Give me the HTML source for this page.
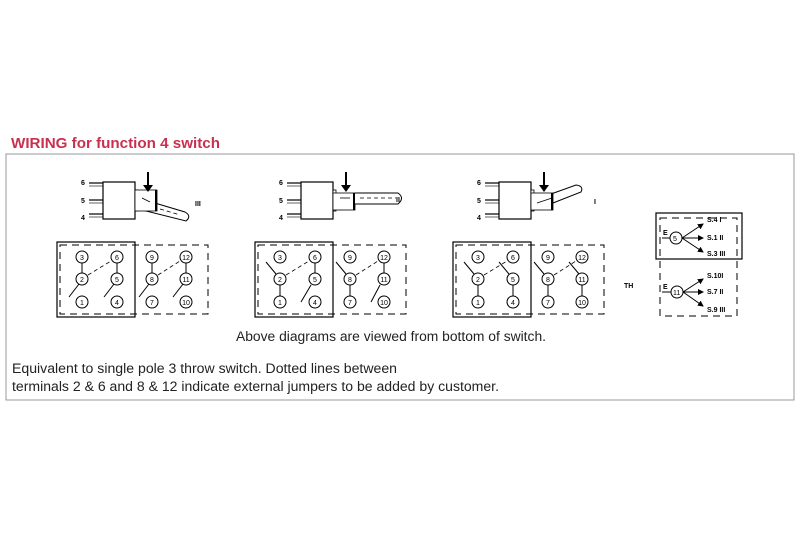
<!DOCTYPE html>
<html><head><meta charset="utf-8"><style>
body{margin:0;background:#fff;width:800px;height:534px;overflow:hidden}
svg{position:absolute;left:0;top:0}
text{font-family:"Liberation Sans",Arial,sans-serif}
</style></head><body>
<svg width="800" height="534" viewBox="0 0 800 534">
<defs>
<marker id="ar" markerWidth="6" markerHeight="6" refX="5" refY="3" orient="auto"><path d="M0,0 L6,3 L0,6 z" fill="#000"/></marker>
<g id="sw">
 <line x1="89" y1="183" x2="103" y2="183" stroke="#000" stroke-width="1.2"/>
 <line x1="89" y1="186" x2="103" y2="186" stroke="#000" stroke-width="0.6"/>
 <line x1="89" y1="200" x2="103" y2="200" stroke="#000" stroke-width="1.2"/>
 <line x1="89" y1="203" x2="103" y2="203" stroke="#000" stroke-width="0.6"/>
 <line x1="89" y1="214" x2="103" y2="214" stroke="#000" stroke-width="1.2"/>
 <line x1="89" y1="217" x2="103" y2="217" stroke="#000" stroke-width="0.6"/>
 <text x="81" y="185" font-size="7" font-weight="bold">6</text>
 <text x="81" y="203" font-size="7" font-weight="bold">5</text>
 <text x="81" y="220" font-size="7" font-weight="bold">4</text>
 <rect x="103" y="182" width="32" height="37" fill="#fff" stroke="#000" stroke-width="1.2"/>
 <rect x="135" y="190" width="3" height="21" fill="#fff" stroke="#000" stroke-width="0.8"/>
</g>
<g id="tb">
 <rect x="57" y="242" width="78" height="75" fill="none" stroke="#000" stroke-width="1.2"/>
 <rect x="60" y="245" width="148" height="69" fill="none" stroke="#000" stroke-width="1" stroke-dasharray="7,5"/>
 <line x1="88" y1="275" x2="111" y2="261" stroke="#000" stroke-width="0.8" stroke-dasharray="4,3"/>
 <line x1="158" y1="275" x2="180" y2="261" stroke="#000" stroke-width="0.8" stroke-dasharray="4,3"/>
 <g fill="#fff" stroke="#000" stroke-width="1">
 <circle cx="82" cy="257" r="6"/><circle cx="82" cy="279" r="6"/><circle cx="82" cy="302" r="6"/>
 <circle cx="117" cy="257" r="6"/><circle cx="117" cy="279" r="6"/><circle cx="117" cy="302" r="6"/>
 <circle cx="152" cy="257" r="6"/><circle cx="152" cy="279" r="6"/><circle cx="152" cy="302" r="6"/>
 <circle cx="186" cy="257" r="6"/><circle cx="186" cy="279" r="6"/><circle cx="186" cy="302" r="6"/>
 </g>
 <g font-size="7" text-anchor="middle">
 <text x="82" y="260">3</text><text x="82" y="282">2</text><text x="82" y="305">1</text>
 <text x="117" y="260">6</text><text x="117" y="282">5</text><text x="117" y="305">4</text>
 <text x="152" y="260">9</text><text x="152" y="282">8</text><text x="152" y="305">7</text>
 <text x="186" y="260">12</text><text x="186" y="282">11</text><text x="186" y="305">10</text>
 </g>
</g>
</defs>
<text x="11" y="148" font-size="15" font-weight="bold" fill="#c8304e" textLength="209" lengthAdjust="spacingAndGlyphs">WIRING for function 4 switch</text>
<rect x="6" y="154" width="788" height="246" fill="none" stroke="#999" stroke-width="1"/>

<!-- set 1 -->
<use href="#sw"/>
<path d="M138,198 L185,212 Q192,216 186,221 L138,209 z" fill="#fff" stroke="#000" stroke-width="1"/>
<rect x="135" y="190" width="22" height="21" fill="#fff" stroke="#000" stroke-width="0.8"/>
<line x1="156" y1="190" x2="156" y2="211" stroke="#000" stroke-width="2"/>
<line x1="142" y1="198" x2="150" y2="202" stroke="#000" stroke-width="0.8"/>
<line x1="160" y1="209" x2="180" y2="215" stroke="#000" stroke-width="0.8" stroke-dasharray="4,3"/>
<line x1="148" y1="172" x2="148" y2="188" stroke="#000" stroke-width="2"/>
<path d="M143,185 L148,192 L153,185 z" fill="#000"/>
<text x="195" y="206" font-size="7" font-weight="bold">III</text>
<use href="#tb"/>
<g stroke="#000" stroke-width="1">
<line x1="82" y1="263" x2="82" y2="273"/><line x1="117" y1="263" x2="117" y2="273"/>
<line x1="152" y1="263" x2="152" y2="273"/><line x1="186" y1="263" x2="186" y2="273"/>
<line x1="69" y1="297" x2="79" y2="284"/><line x1="104" y1="297" x2="114" y2="284"/>
<line x1="139" y1="297" x2="149" y2="284"/><line x1="173" y1="297" x2="183" y2="284"/>
</g>

<!-- set 2 -->
<g transform="translate(198,0)">
<use href="#sw"/>
<rect x="135" y="193" width="22" height="17" fill="#fff" stroke="#000" stroke-width="0.8"/>
<path d="M157,193 L200,193 Q207,198 200,204 L157,204" fill="#fff" stroke="#000" stroke-width="1"/>
<line x1="156" y1="193" x2="156" y2="210" stroke="#000" stroke-width="2"/>
<line x1="142" y1="198" x2="152" y2="198" stroke="#000" stroke-width="0.8"/>
<line x1="162" y1="198" x2="198" y2="198" stroke="#000" stroke-width="0.8" stroke-dasharray="4,3"/>
<line x1="148" y1="172" x2="148" y2="188" stroke="#000" stroke-width="2"/>
<path d="M143,185 L148,192 L153,185 z" fill="#000"/>
<text x="198" y="202" font-size="7" font-weight="bold">II</text>
<use href="#tb"/>
<g stroke="#000" stroke-width="1">
<line x1="82" y1="285" x2="82" y2="296"/><line x1="117" y1="263" x2="117" y2="273"/>
<line x1="152" y1="285" x2="152" y2="296"/><line x1="186" y1="263" x2="186" y2="273"/>
<line x1="68" y1="262" x2="78" y2="274"/><line x1="103" y1="302" x2="113" y2="285"/>
<line x1="138" y1="262" x2="148" y2="274"/><line x1="173" y1="302" x2="182" y2="285"/>
</g>
</g>

<!-- set 3 -->
<g transform="translate(396,0)">
<use href="#sw"/>
<path d="M155,194 L180,185 Q188,186 185,192 L157,203" fill="#fff" stroke="#000" stroke-width="1"/>
<rect x="135" y="193" width="22" height="17" fill="#fff" stroke="#000" stroke-width="0.8"/>
<line x1="156" y1="193" x2="156" y2="210" stroke="#000" stroke-width="2"/>
<line x1="141" y1="203" x2="156" y2="198" stroke="#000" stroke-width="0.8"/>
<line x1="148" y1="172" x2="148" y2="188" stroke="#000" stroke-width="2"/>
<path d="M143,185 L148,192 L153,185 z" fill="#000"/>
<text x="198" y="204" font-size="7" font-weight="bold">I</text>
<use href="#tb"/>
<g stroke="#000" stroke-width="1">
<line x1="82" y1="285" x2="82" y2="296"/><line x1="117" y1="285" x2="117" y2="296"/>
<line x1="152" y1="285" x2="152" y2="296"/><line x1="186" y1="285" x2="186" y2="296"/>
<line x1="68" y1="262" x2="78" y2="274"/><line x1="103" y1="262" x2="113" y2="274"/>
<line x1="138" y1="262" x2="148" y2="274"/><line x1="173" y1="262" x2="183" y2="274"/>
</g>
</g>

<text x="624" y="288" font-size="7" font-weight="bold">TH</text>

<!-- right panel -->
<rect x="656" y="213" width="86" height="46" fill="none" stroke="#000" stroke-width="1.2"/>
<rect x="660" y="218" width="77" height="98" fill="none" stroke="#000" stroke-width="1" stroke-dasharray="7,5"/>
<g stroke="#000" stroke-width="1">
<line x1="662" y1="238" x2="671" y2="238"/>
<line x1="682" y1="238" x2="703" y2="224" marker-end="url(#ar)"/>
<line x1="682" y1="238" x2="703" y2="238" marker-end="url(#ar)"/>
<line x1="682" y1="238" x2="703" y2="252" marker-end="url(#ar)"/>
<line x1="662" y1="292" x2="671" y2="292"/>
<line x1="683" y1="292" x2="703" y2="279" marker-end="url(#ar)"/>
<line x1="683" y1="292" x2="703" y2="292" marker-end="url(#ar)"/>
<line x1="683" y1="292" x2="703" y2="306" marker-end="url(#ar)"/>
</g>
<circle cx="676" cy="238" r="6" fill="#fff" stroke="#000"/>
<circle cx="677" cy="292" r="6" fill="#fff" stroke="#000"/>
<g font-size="7" font-weight="bold">
<text x="673" y="241" font-weight="normal">5</text>
<text x="673" y="295" font-weight="normal">11</text>
<text x="663" y="235">E</text><text x="663" y="289">E</text>
<text x="707" y="222">S.4 I</text><text x="707" y="240">S.1 II</text><text x="707" y="256">S.3 III</text>
<text x="707" y="278">S.10I</text><text x="707" y="294">S.7 II</text><text x="707" y="312">S.9 III</text>
</g>

<text x="236" y="341" font-size="13.5" fill="#222" textLength="310" lengthAdjust="spacingAndGlyphs">Above diagrams are viewed from bottom of switch.</text>
<text x="12" y="373" font-size="13.5" fill="#222" textLength="385" lengthAdjust="spacingAndGlyphs">Equivalent to single pole 3 throw switch. Dotted lines between</text>
<text x="12" y="391" font-size="13.5" fill="#222" textLength="487" lengthAdjust="spacingAndGlyphs">terminals 2 &amp; 6 and 8 &amp; 12 indicate external jumpers to be added by customer.</text>
</svg>
</body></html>
